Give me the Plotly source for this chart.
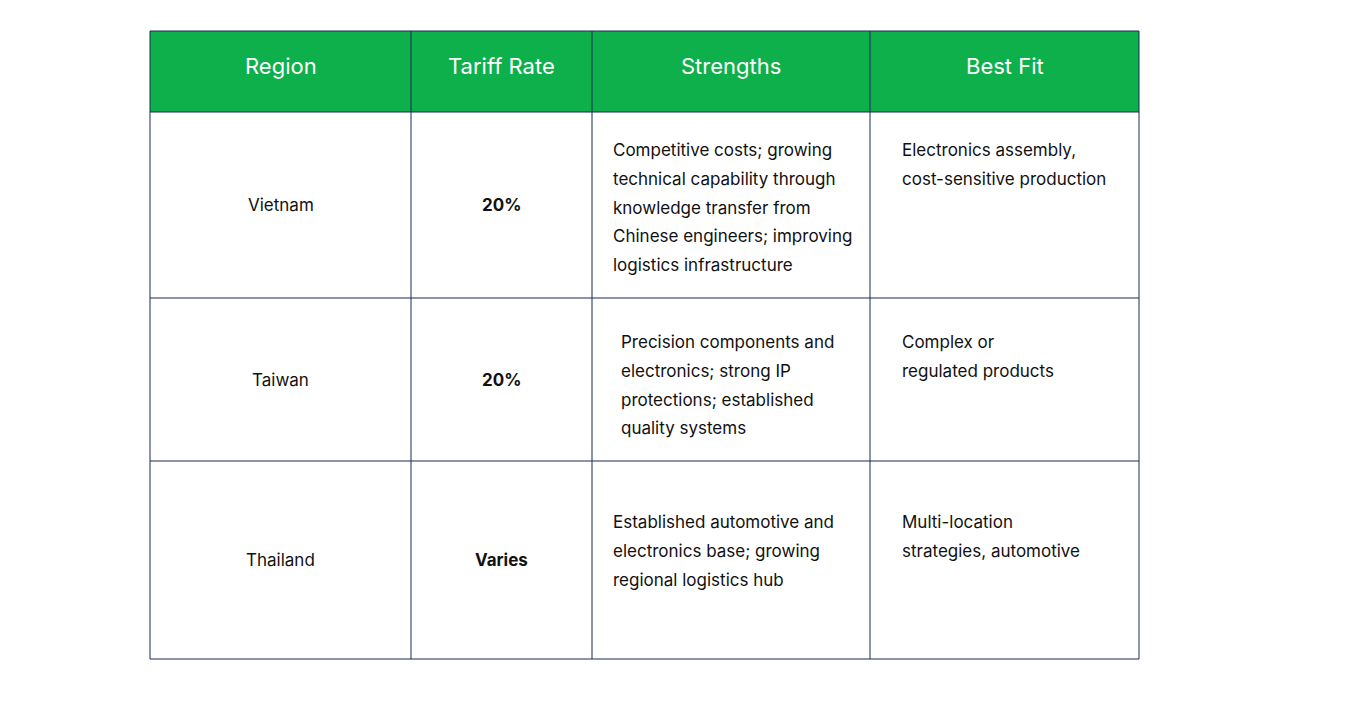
import plotly.graph_objects as go

headers = ["Region", "Tariff Rate", "Strengths", "Best Fit"]
regions = ["Vietnam", "Taiwan", "Thailand"]
tariffs = ["20%", "20%", "Varies"]
strengths = [
    ["Competitive costs; growing", "technical capability through", "knowledge transfer from",
     "Chinese engineers; improving", "logistics infrastructure"],
    ["Precision components and", "electronics; strong IP", "protections; established", "quality systems"],
    ["Established automotive and", "electronics base; growing", "regional logistics hub"],
]
best_fit = [
    ["Electronics assembly,", "cost-sensitive production"],
    ["Complex or", "regulated products"],
    ["Multi-location", "strategies, automotive"],
]

W, H = 1349, 705
OFF = 8  # page body margin
col_edges = [150, 411, 592, 870, 1139]
row_edges = [31, 112, 298, 461, 659]
text_x = [None, None, [611, 619, 611], [900, 900, 900]]
line_h = 28.8
first_line = [150, 342, 522]
green = "#0db04b"
border = "#1a2a55"
font = "Inter, Lato, sans-serif"

fig = go.Figure()
shapes, ann = [], []
shapes.append(dict(type="rect", x0=col_edges[0], x1=col_edges[-1], y0=row_edges[0], y1=row_edges[1],
                   fillcolor=green, line=dict(width=0), layer="below"))
for x in col_edges:
    shapes.append(dict(type="line", x0=x, x1=x, y0=row_edges[0], y1=row_edges[-1], line=dict(color=border, width=1)))
for y in row_edges:
    shapes.append(dict(type="line", x0=col_edges[0], x1=col_edges[-1], y0=y, y1=y, line=dict(color=border, width=1)))

for i, h in enumerate(headers):
    ann.append(dict(x=(col_edges[i] + col_edges[i + 1]) / 2, y=(row_edges[0] + row_edges[1]) / 2 - 6,
                    text=h, showarrow=False, font=dict(family=font, size=22, color="white")))

for r in range(3):
    yc = (row_edges[r + 1] + row_edges[r + 2]) / 2
    ann.append(dict(x=(col_edges[0] + col_edges[1]) / 2, y=yc, text=regions[r], showarrow=False,
                    font=dict(family=font, size=17, color="#111")))
    ann.append(dict(x=(col_edges[1] + col_edges[2]) / 2, y=yc, text="<b>" + tariffs[r] + "</b>", showarrow=False,
                    font=dict(family=font, size=17, color="#111")))
    for c, lines in ((2, strengths[r]), (3, best_fit[r])):
        for k, line in enumerate(lines):
            ann.append(dict(x=text_x[c][r], y=first_line[r] + k * line_h, text=line, showarrow=False,
                            xanchor="left", yanchor="middle", font=dict(family=font, size=17, color="#111")))

fig.update_layout(width=W, height=H, margin=dict(l=0, r=0, t=0, b=0),
                  paper_bgcolor="white", plot_bgcolor="white",
                  xaxis=dict(range=[OFF, W + OFF], visible=False, fixedrange=True),
                  yaxis=dict(range=[H + OFF, OFF], visible=False, fixedrange=True),
                  shapes=shapes, annotations=ann, showlegend=False)
fig.write_html("out.html", config={"displayModeBar": False})
